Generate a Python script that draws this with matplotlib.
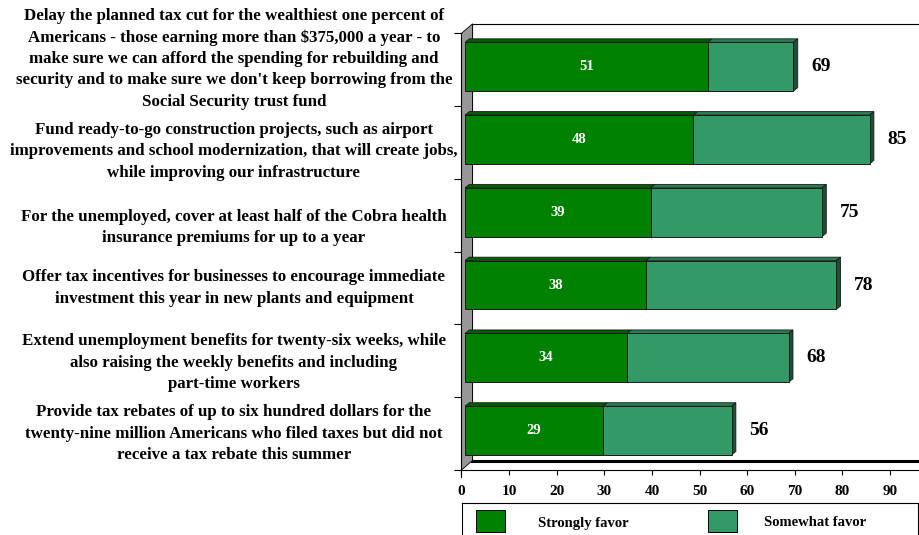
import matplotlib
matplotlib.use("Agg")
import matplotlib.pyplot as plt
from matplotlib.patches import Polygon, Rectangle
from matplotlib.transforms import blended_transform_factory, ScaledTranslation

# ---- data -------------------------------------------------------------
proposals = [
    "Delay the planned tax cut for the wealthiest one percent of\n"
    "Americans - those earning more than $375,000 a year - to\n"
    "make sure we can afford the spending for rebuilding and\n"
    "security and to make sure we don't keep borrowing from the\n"
    "Social Security trust fund",
    "Fund ready-to-go construction projects, such as airport\n"
    "improvements and school modernization, that will create jobs,\n"
    "while improving our infrastructure",
    "For the unemployed, cover at least half of the Cobra health\n"
    "insurance premiums for up to a year",
    "Offer tax incentives for businesses to encourage immediate\n"
    "investment this year in new plants and equipment",
    "Extend unemployment benefits for twenty-six weeks, while\n"
    "also raising the weekly benefits and including\n"
    "part-time workers",
    "Provide tax rebates of up to six hundred dollars for the\n"
    "twenty-nine million Americans who filed taxes but did not\n"
    "receive a tax rebate this summer",
]
strongly = [51, 48, 39, 38, 34, 29]
somewhat = [18, 37, 36, 40, 34, 27]
series_names = ["Strongly favor", "Somewhat favor"]
x_ticks = [0, 10, 20, 30, 40, 50, 60, 70, 80, 90]

# ---- styling ----------------------------------------------------------
W, H, DPI = 920, 535, 100
SERIF = ["Liberation Serif", "DejaVu Serif"]
C_STRONG, C_STRONG_TOP = "#008000", "#005e00"
C_SOME, C_SOME_TOP, C_SOME_SIDE = "#339966", "#2a7c53", "#1f4f36"
EDGE = "#1a1a1a"
WALL = "#979797"

# vertical nudges (px, downward) for the category text blocks
label_nudge = [-11, 9, 12, 0, 2, 0]

plt.rcParams["font.family"] = SERIF
plt.rcParams["font.weight"] = "bold"

fig = plt.figure(figsize=(W / DPI, H / DPI), dpi=DPI)
fig.patch.set_facecolor("white")


def rect(left_px, top_px, w_px, h_px):
    return [left_px / W, 1 - (top_px + h_px) / H, w_px / W, h_px / H]


X0, TOP, PLOT_W, PLOT_H = 461.5, 33.3, 476.0, 436.7
DEPTH_X, DEPTH_Y = 11.0, 9.5          # full depth of the 3-D box
BAR_X, BAR_Y = 3.5, 3.0               # depth position of the bars
FACE_X, FACE_Y = 4.3, 3.5             # thickness of the bar slab
XMAX = 100
n = len(proposals)
sx = PLOT_W / XMAX                    # px per unit
sy = PLOT_H / n                       # px per category

# back wall
ax_w = fig.add_axes(rect(X0 + DEPTH_X, TOP - DEPTH_Y, PLOT_W, PLOT_H))
ax_w.set_xlim(0, XMAX)
ax_w.set_ylim(n - 0.5, -0.5)
ax_w.set_xticks([])
ax_w.set_yticks([])
for side in ("top", "right", "left"):
    ax_w.spines[side].set_linewidth(0.8)
ax_w.spines["bottom"].set_linewidth(2.2)
ax_w.set_zorder(0)

# front frame: side wall, floor, axes
ax_f = fig.add_axes(rect(X0, TOP, PLOT_W, PLOT_H))
ax_f.set_xlim(0, XMAX)
ax_f.set_ylim(n - 0.5, -0.5)
ax_f.patch.set_visible(False)
ax_f.set_zorder(1)
for side in ("top", "right"):
    ax_f.spines[side].set_visible(False)
ax_f.spines["left"].set_linewidth(0.8)
ax_f.spines["bottom"].set_linewidth(0.8)

ddx, ddy = DEPTH_X / sx, DEPTH_Y / sy
ax_f.add_patch(Polygon([(0, -0.5), (ddx, -0.5 - ddy), (ddx, n - 0.5 - ddy), (0, n - 0.5)],
                       closed=True, facecolor=WALL, edgecolor="black", lw=0.6,
                       clip_on=False))
ax_f.plot([0, 0], [n - 0.5, n - 0.5 + 7 / sy], color="black", lw=0.8, clip_on=False)

ax_f.set_xticks(x_ticks)
ax_f.set_xticklabels([str(t) for t in x_ticks], fontsize=11, fontweight="bold")
ax_f.tick_params(axis="x", direction="out", length=3.6, width=0.8, pad=7.5)
ax_f.set_yticks([i - 0.5 for i in range(n + 1)])
ax_f.set_yticklabels([])
ax_f.tick_params(axis="y", direction="out", length=5, width=0.8)

# category texts
trans_lab = blended_transform_factory(fig.transFigure, ax_f.transData)
for i, (txt, nud) in enumerate(zip(proposals, label_nudge)):
    ax_f.text(234 / W, i, txt,
              transform=trans_lab + ScaledTranslation(0, -nud / DPI, fig.dpi_scale_trans),
              ha="center", va="center", multialignment="center",
              fontsize=12.2, fontweight="bold", linespacing=1.45, clip_on=False)

# bars
ax_b = fig.add_axes(rect(X0 + BAR_X, TOP - BAR_Y, PLOT_W, PLOT_H))
ax_b.set_xlim(0, XMAX)
ax_b.set_ylim(n - 0.5, -0.5)
ax_b.axis("off")
ax_b.set_zorder(2)

ypos = list(range(n))
bh = 0.67
fdx, fdy = FACE_X / sx, FACE_Y / sy
totals = [a + b for a, b in zip(strongly, somewhat)]

ax_b.barh(ypos, strongly, height=bh, color=C_STRONG, edgecolor=EDGE, lw=0.7,
          label=series_names[0], zorder=3)
ax_b.barh(ypos, somewhat, left=strongly, height=bh, color=C_SOME, edgecolor=EDGE,
          lw=0.7, label=series_names[1], zorder=3)

for y, s, t in zip(ypos, strongly, totals):
    top = y - bh / 2
    bot = y + bh / 2
    for l, r, c in ((0, s, C_STRONG_TOP), (s, t, C_SOME_TOP)):
        ax_b.add_patch(Polygon([(l, top), (r, top), (r + fdx, top - fdy), (l + fdx, top - fdy)],
                               closed=True, facecolor=c, edgecolor=EDGE, lw=0.6,
                               zorder=2, clip_on=False))
    ax_b.add_patch(Polygon([(t, top), (t + fdx, top - fdy), (t + fdx, bot - fdy), (t, bot)],
                           closed=True, facecolor=C_SOME_SIDE, edgecolor=EDGE, lw=0.6,
                           zorder=2, clip_on=False))
    ax_b.text(s / 2, y, str(s), ha="center", va="center", color="white",
              fontsize=10.5, fontweight="bold", zorder=5)
    ax_b.annotate(str(t), xy=(t, y), xytext=(13, 0), textcoords="offset points",
                  ha="left", va="center", fontsize=14, fontweight="bold",
                  color="black", annotation_clip=False)

# legend box
ax_l = fig.add_axes(rect(462, 503, 456, 36))
ax_l.set_xlim(0, 456)
ax_l.set_ylim(36, 0)
ax_l.set_xticks([])
ax_l.set_yticks([])
for sp in ax_l.spines.values():
    sp.set_linewidth(0.8)
for (px, tx), name, col in zip(((14, 76), (246, 302)), series_names, (C_STRONG, C_SOME)):
    ax_l.add_patch(Rectangle((px, 7), 29, 21.7, facecolor=col, edgecolor="black", lw=0.7))
    ax_l.text(tx, 20, name, ha="left", va="center", fontsize=10.5, fontweight="bold")

fig.savefig("out.png", dpi=DPI, facecolor="white")
